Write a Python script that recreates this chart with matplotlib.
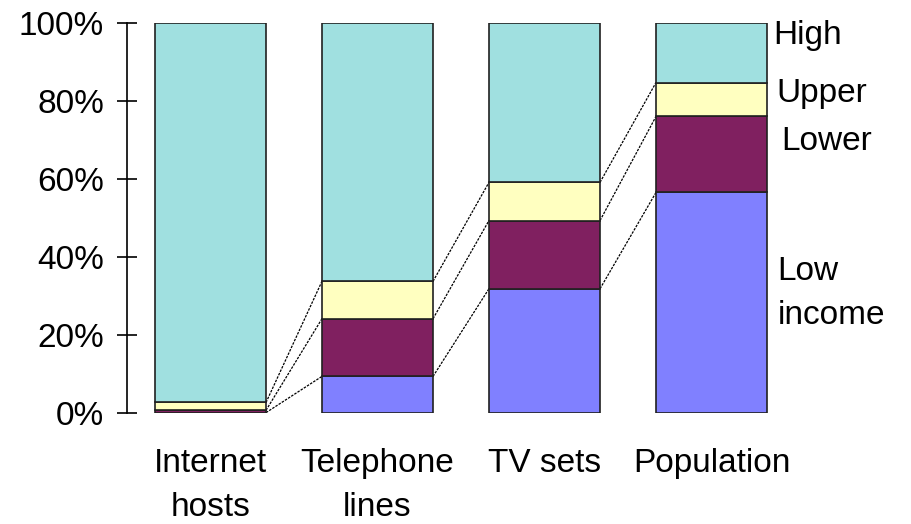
import matplotlib
matplotlib.use("Agg")
import matplotlib.pyplot as plt
import numpy as np

plt.rcParams['font.family'] = ['Liberation Sans', 'DejaVu Sans']

categories = ["Internet\nhosts", "Telephone\nlines", "TV sets", "Population"]
low_income = [0.1, 9.4, 31.9, 56.6]
lower_middle = [0.6, 14.8, 17.5, 19.5]
upper_middle = [2.0, 9.6, 9.8, 8.7]
high_income = [97.3, 66.2, 40.8, 15.2]

series = [low_income, lower_middle, upper_middle, high_income]
colors = ["#8080FF", "#802060", "#FFFFC0", "#A0E0E0"]
group_labels = ["Low\nincome", "Lower", "Upper", "High"]

fig = plt.figure(figsize=(9.11, 5.24), dpi=100)
ax = fig.add_axes([0.1394, 0.2118, 0.8727 - 0.1394, 0.9555 - 0.2118])

x = np.arange(len(categories))
width = 0.665
bottom = np.zeros(len(categories))
tops = []
for vals, col in zip(series, colors):
    vals = np.asarray(vals, dtype=float)
    ax.bar(x, vals, width=width, bottom=bottom, color=col,
           edgecolor="#202020", linewidth=1.2, zorder=2)
    bottom = bottom + vals
    tops.append(bottom.copy())

# dashed connectors between the band boundaries of neighbouring bars
for cum in tops[:-1]:
    for i in range(len(categories) - 1):
        ax.plot([x[i] + width / 2, x[i + 1] - width / 2], [cum[i], cum[i + 1]],
                color="black", linewidth=0.9, linestyle=(0, (2, 1)), zorder=1)

ax.set_xlim(-0.5, 3.5)
ax.set_ylim(0, 100)
ax.set_yticks([0, 20, 40, 60, 80, 100])
ax.set_yticklabels([f"{v}%" for v in [0, 20, 40, 60, 80, 100]], fontsize=24)
ax.set_xticks(x)
ax.set_xticklabels(categories, fontsize=24)
for lbl in ax.get_xticklabels():
    lbl.set_linespacing(1.55)

for side in ["top", "right", "bottom"]:
    ax.spines[side].set_visible(False)
ax.spines["left"].set_linewidth(1.2)
ax.tick_params(axis="y", direction="inout", length=15, width=1.2, pad=9)
ax.tick_params(axis="x", length=0, pad=25)

# series names beside the last bar (axes-data placement)
label_pos = [(3.395, 30.6), (3.42, 69.6), (3.39, 81.9), (3.37, 96.8)]
for name, (lx, ly) in zip(group_labels, label_pos):
    ax.text(lx, ly, name, fontsize=24, va="center", ha="left",
            linespacing=1.55, clip_on=False)

fig.savefig("out.png", dpi=100)
